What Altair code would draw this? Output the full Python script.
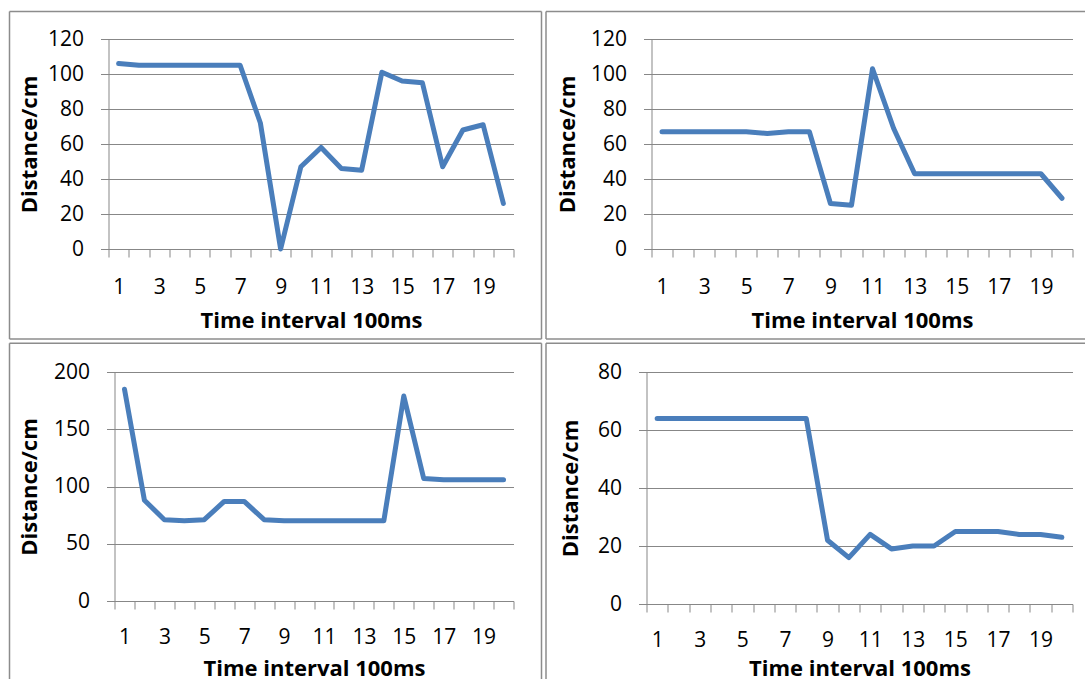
import altair as alt
import pandas as pd

# ---------------- data ----------------
time_idx = list(range(1, 21))
dist_a = [106, 105, 105, 105, 105, 105, 105, 72, 0, 47, 58, 46, 45, 101, 96, 95, 47, 68, 71, 26]
dist_b = [67, 67, 67, 67, 67, 66, 67, 67, 26, 25, 103, 69, 43, 43, 43, 43, 43, 43, 43, 29]
dist_c = [185, 88, 71, 70, 71, 87, 87, 71, 70, 70, 70, 70, 70, 70, 179, 107, 106, 106, 106, 106]
dist_d = [64, 64, 64, 64, 64, 64, 64, 64, 22, 16, 24, 19, 20, 20, 25, 25, 25, 24, 24, 23]

yticks_a = [0, 20, 40, 60, 80, 100, 120]
yticks_b = [0, 20, 40, 60, 80, 100, 120]
yticks_c = [0, 50, 100, 150, 200]
yticks_d = [0, 20, 40, 60, 80]

x_labels = [1, 3, 5, 7, 9, 11, 13, 15, 17, 19]
x_bounds = [i + 0.5 for i in range(0, 21)]
x_axis_values = sorted(x_labels + x_bounds)

X_TITLE = "Time interval 100ms"
Y_TITLE = "Distance/cm"

BLUE = "#4A7EBB"
GRID = "#878787"
BORDER = "#8c8c8c"
FONT = "Open Sans"

dummy = alt.Data(values=[{}])


def hrule(x1, x2, y):
    return alt.Chart(dummy).mark_rule(color=BORDER, strokeWidth=1.5).encode(
        x=alt.value(x1), x2=alt.value(x2), y=alt.value(y))


def vrule(x, y1, y2):
    return alt.Chart(dummy).mark_rule(color=BORDER, strokeWidth=1.5).encode(
        x=alt.value(x), y=alt.value(y1), y2=alt.value(y2))


def panel(vals, yticks, width, height, xoff, y_tpad, x_lpad, x_tpad, borders):
    df = pd.DataFrame({"t": time_idx, "d": vals})
    if xoff:
        xscale = alt.Scale(domain=[0.5, 20.5], nice=False, zero=False, range=[xoff, width])
    else:
        xscale = alt.Scale(domain=[0.5, 20.5], nice=False, zero=False)
    x_ext = 8 + x_lpad + 21
    line = alt.Chart(df).mark_line(
        color=BLUE, strokeWidth=5, strokeCap="round", strokeJoin="round"
    ).encode(
        x=alt.X("t:Q", scale=xscale, axis=alt.Axis(
            values=x_axis_values,
            title=X_TITLE,
            labelExpr="datum.value % 1 == 0 ? format(datum.value, 'd') : ''",
            tickOpacity={"condition": {"test": "datum.value % 1 == 0", "value": 0}, "value": 1},
            grid=False,
            labelOverlap=False,
            labelFlush=False,
            labelPadding=x_lpad,
            titlePadding=x_tpad,
            minExtent=x_ext,
            maxExtent=x_ext,
        )),
        y=alt.Y("d:Q", scale=alt.Scale(domain=[yticks[0], yticks[-1]], nice=False, zero=True),
                axis=alt.Axis(
                    values=yticks,
                    title=Y_TITLE,
                    grid=True,
                    offset=-xoff,
                    labelOverlap=False,
                    labelFlush=False,
                    labelPadding=17,
                    titlePadding=y_tpad,
                    minExtent=50,
                    maxExtent=50,
                )),
    )
    layers = [line] + borders
    return alt.layer(*layers).properties(width=width, height=height)


p1 = panel(dist_a, yticks_a, 405, 210, 0, 17, 19.3, 13.1,
           [hrule(-99, 433, -27.5), hrule(-99, 433, 300), vrule(-99, -27.5, 300), vrule(433, -27.5, 300)])
p2 = panel(dist_b, yticks_b, 426, 210, 5, 22, 19.3, 13.1,
           [hrule(-100.5, 438.5, -27.5), hrule(-100.5, 438.5, 300), vrule(-100.5, -27.5, 300)])
p3 = panel(dist_c, yticks_c, 405, 229, 6, 23, 17.3, 11.2,
           [hrule(-99, 433, -28.7), vrule(-99, -28.7, 307), vrule(433, -28.7, 307)])
p4 = panel(dist_d, yticks_d, 426, 232, 0, 14, 17.7, 7.8,
           [hrule(-100.5, 438.5, -28.7), vrule(-100.5, -28.7, 307)])

chart = alt.concat(
    p1, p2, p3, p4, columns=2, spacing={"row": 123, "column": 133}, bounds="flush"
).properties(
    padding={"left": 8.5, "top": 10, "right": 0, "bottom": 0},
    background="white",
).configure_view(
    stroke=None
).configure_axis(
    domainColor=GRID,
    domainWidth=1,
    tickColor=GRID,
    tickWidth=1,
    tickSize=8,
    gridColor=GRID,
    gridWidth=1,
    labelFont=FONT,
    labelFontSize=21,
    labelColor="#000000",
    titleFont=FONT,
    titleFontSize=22,
    titleFontWeight="bold",
    titleColor="#000000",
)

chart.save("out.html", embed_options={"renderer": "svg", "actions": False})
